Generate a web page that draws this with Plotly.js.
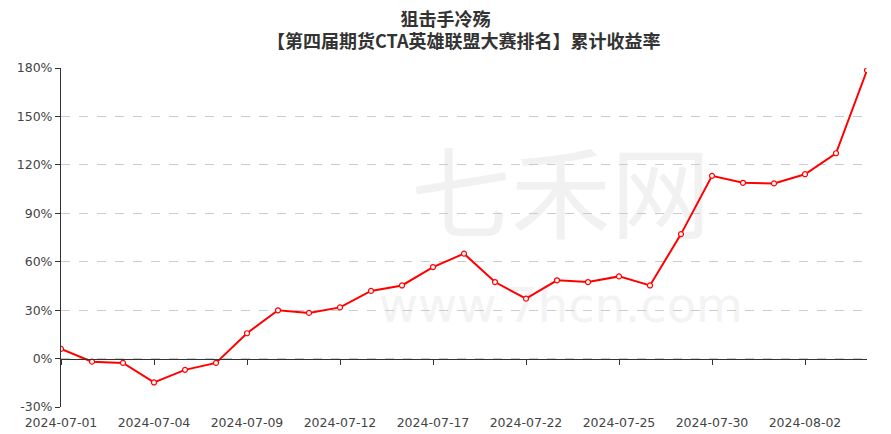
<!DOCTYPE html>
<html>
<head>
<meta charset="utf-8">
<script src="https://cdn.plot.ly/plotly-3.0.1.min.js"></script>
<style>html,body{margin:0;padding:0;background:#fff;}#chart{width:891px;height:434px;}</style>
</head>
<body>
<div id="chart"></div>
<script>
const dates = ["2024-07-01","2024-07-02","2024-07-03","2024-07-04","2024-07-05","2024-07-08","2024-07-09","2024-07-10","2024-07-11","2024-07-12","2024-07-15","2024-07-16","2024-07-17","2024-07-18","2024-07-19","2024-07-22","2024-07-23","2024-07-24","2024-07-25","2024-07-26","2024-07-29","2024-07-30","2024-07-31","2024-08-01","2024-08-02","2024-08-05","2024-08-06"];
const returns = [6.0,-1.9,-2.7,-14.8,-7.0,-2.7,15.7,29.9,28.3,31.7,41.9,45.3,56.7,65.0,47.4,37.1,48.5,47.4,50.9,45.3,77.1,113.2,108.9,108.5,114.2,127.2,178.6];
const labelDates = ["2024-07-01","2024-07-04","2024-07-09","2024-07-12","2024-07-17","2024-07-22","2024-07-25","2024-07-30","2024-08-02"];
const yTicks = [-30,0,30,60,90,120,150,180];
const yTickText = yTicks.map(v => v + "%");
const titleLine1 = "狙击手冷殇";
const titleLine2 = "【第四届期货CTA英雄联盟大赛排名】累计收益率";

const font = "DejaVu Sans, sans-serif";
const cjk = "Noto Sans CJK SC, sans-serif";
const traces = [
  {
    x: dates, y: returns, type: "scatter", mode: "lines+markers",
    line: {color: "#ff0000", width: 2},
    marker: {symbol: "circle", size: 5, color: "#ffffff", line: {color: "#ff0000", width: 1.2}},
    hoverinfo: "skip", showlegend: false
  },
  {
    x: dates, y: returns, xaxis: "x2", type: "scatter", mode: "lines",
    line: {color: "rgba(0,0,0,0)", width: 0}, hoverinfo: "skip", showlegend: false
  }
];
const layout = {
  width: 891, height: 434,
  margin: {l: 61, r: 24, t: 68, b: 27},
  paper_bgcolor: "#fff", plot_bgcolor: "rgba(0,0,0,0)",
  title: {text: titleLine1, x: 0.5, xanchor: "center", yref: "container", y: 1 - 19.5 / 434, yanchor: "middle",
          font: {family: cjk, size: 18, color: "#333", weight: "bold"}},
  xaxis: {
    type: "category", categoryorder: "array", categoryarray: dates,
    range: [0, dates.length - 1],
    tickvals: labelDates, ticktext: labelDates,
    showgrid: false, zeroline: false, showline: false, ticks: "",
    tickfont: {family: font, size: 12.5, color: "#444"},
    ticklabelstandoff: 6
  },
  xaxis2: {
    type: "category", categoryorder: "array", categoryarray: dates,
    range: [0, dates.length - 1], overlaying: "x", anchor: "free",
    position: 30 / 210,
    tickvals: labelDates, showticklabels: false,
    ticks: "outside", ticklen: 5, tickcolor: "#333", tickwidth: 1,
    showline: true, linecolor: "#333", linewidth: 1,
    showgrid: false, zeroline: false
  },
  yaxis: {
    range: [-30, 180], tickvals: yTicks, ticktext: yTickText,
    showgrid: true, gridcolor: "#cccccc", griddash: "dash", gridwidth: 1,
    zeroline: false,
    showline: true, linecolor: "#333", linewidth: 1,
    ticks: "outside", ticklen: 5, tickcolor: "#333",
    tickfont: {family: font, size: 12.5, color: "#444"}
  },
  annotations: [
    {text: titleLine2, xref: "paper", yref: "paper", x: 0.5, xanchor: "center",
     y: 1 + (68 - 40) / 339, yanchor: "middle", showarrow: false,
     font: {family: cjk, size: 18, color: "#333", weight: "bold"}}
  ],
  shapes: [
    {type: "rect", xref: "paper", yref: "paper", x0: 0.40, x1: 0.84, y0: 0.44, y1: 0.76,
     layer: "below", line: {width: 0, color: "rgba(0,0,0,0)"}, fillcolor: "rgba(0,0,0,0)",
     label: {text: "七禾网", textposition: "middle center",
             font: {family: cjk, size: 100, color: "#f1f1f1"}}},
    {type: "rect", xref: "paper", yref: "paper", x0: 0.40, x1: 0.84, y0: 0.25, y1: 0.37,
     layer: "below", line: {width: 0, color: "rgba(0,0,0,0)"}, fillcolor: "rgba(0,0,0,0)",
     label: {text: "www.7hcn.com", textposition: "middle center",
             font: {family: font, size: 48, color: "#f3f3f3"}}}
  ]
};
Plotly.newPlot("chart", traces, layout, {displayModeBar: false, staticPlot: true});
</script>
</body>
</html>
